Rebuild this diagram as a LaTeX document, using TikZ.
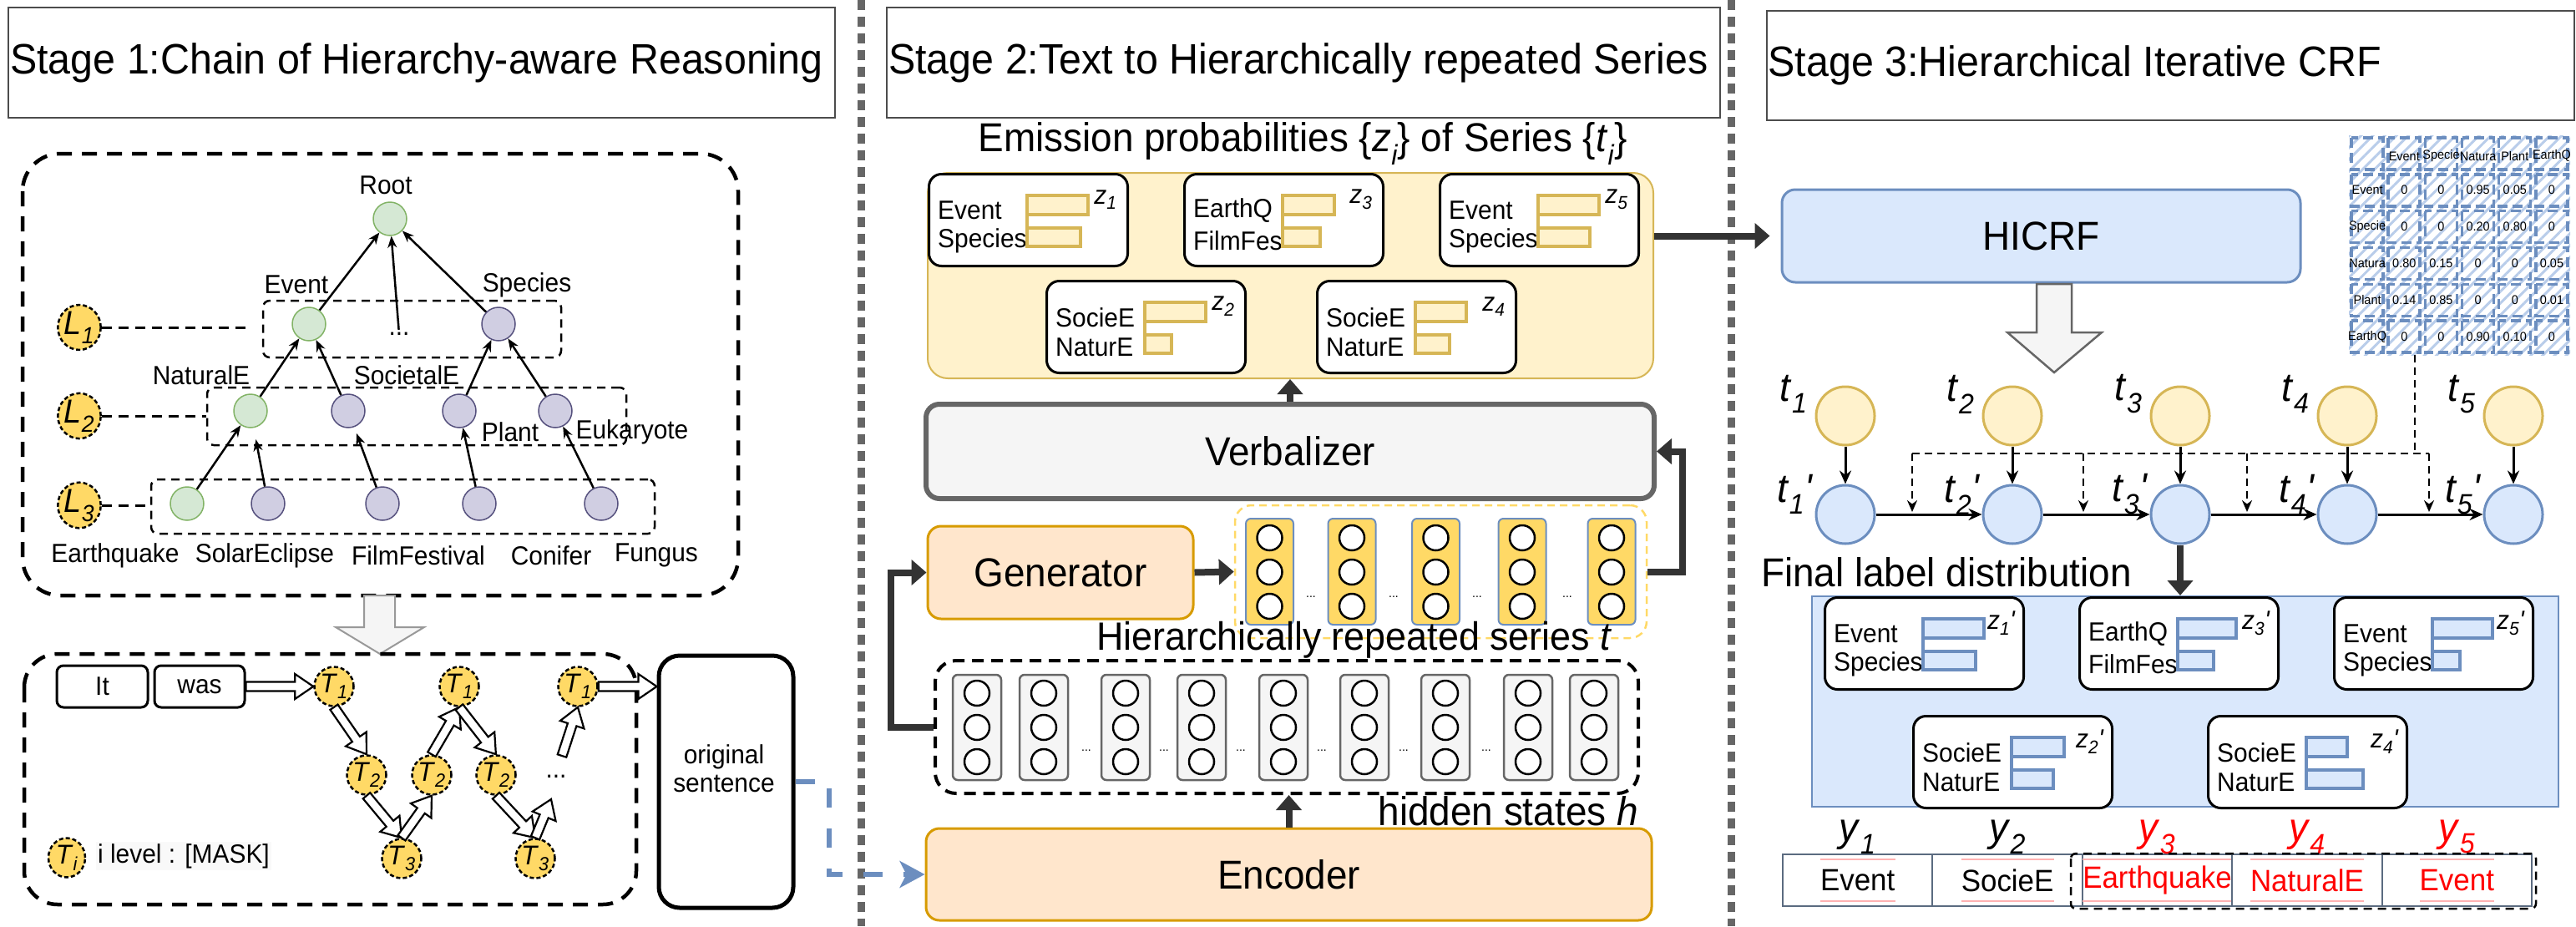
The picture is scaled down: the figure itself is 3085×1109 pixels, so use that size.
\documentclass[tikz,border=0pt]{standalone}
\usepackage{fontspec}
\setmainfont{Liberation Sans}[FakeStretch=0.95]
\usetikzlibrary{positioning,calc,arrows.meta,patterns.meta,shapes.geometric}

\definecolor{grnF}{HTML}{D5E8D4}\definecolor{grnD}{HTML}{82B366}
\definecolor{purF}{HTML}{D0CEE2}\definecolor{purD}{HTML}{56517E}
\definecolor{goldF}{HTML}{FFD966}
\definecolor{yelF}{HTML}{FFF2CC}\definecolor{yelD}{HTML}{D6B656}
\definecolor{orgF}{HTML}{FFE6CC}\definecolor{orgD}{HTML}{D79B00}
\definecolor{bluF}{HTML}{DAE8FC}\definecolor{bluD}{HTML}{6C8EBF}
\definecolor{gryF}{HTML}{F5F5F5}\definecolor{gryD}{HTML}{666666}
\definecolor{slate}{HTML}{5B6B80}

\newcommand\fsz[1]{\fontsize{\fpeval{#1*1.05}}{\fpeval{#1*1.05}}\selectfont}
\newcommand\isub[2]{\textit{#1}\textsubscript{\itshape #2}}
\newcommand\iprm{\textit{\textquotesingle}}
% hollow block arrow between two points
\newcommand\hollow[2]{%
  \draw[hol] let \p1=#1, \p2=#2, \n1={atan2(\y2-\y1,\x2-\x1)}, \n2={veclen(\x2-\x1,\y2-\y1)} in
    [shift={(\p1)}, rotate=\n1] (0,-5.5) -- (\n2-22,-5.5) -- (\n2-22,-15) -- (\n2,0)
    -- (\n2-22,15) -- (\n2-22,5.5) -- (0,5.5) -- cycle;}
% bar card: name, x, y, line 1, line 2, bar 1, bar 2, label, bar style
\newcommand\distbox[9]{%
  \node[dbox, anchor=north west] (#1) at (#2,#3) {};
  \node[dtxt, anchor=west] (#1-a) at ($(#1.north west)+(12,45)$) {#4};
  \node[dtxt, anchor=west] (#1-b) at ($(#1.north west)+(12,81)$) {#5};
  \draw[#9] ($(#1.north west)+(119,27)$) rectangle ++(#6,23);
  \draw[#9] ($(#1.north west)+(119,66)$) rectangle ++(#7,22);
  \draw[#9] ($(#1.north west)+(119,27)$) -- ++(0,61);
  \node[dtxt] (#1-z) at ($(#1.north east)+(-28,32)$) {#8};}

\begin{document}
\begin{tikzpicture}[x=1pt, y=-1pt, font=\fsz{30},
  tbox/.style={draw=black!70, line width=2pt},
  sep/.style={draw=gryD, line width=9pt, dash pattern=on 12pt off 8pt},
  gnode/.style={circle, draw=grnD, fill=grnF, line width=1.5pt, minimum size=40pt, inner sep=0pt},
  pnode/.style={circle, draw=purD, fill=purF, line width=1.5pt, minimum size=40pt, inner sep=0pt},
  lvlbox/.style={draw, line width=2.5pt, dash pattern=on 10pt off 7pt, rounded corners=8pt},
  bigbox/.style={draw, line width=4.5pt, dash pattern=on 18pt off 12pt, rounded corners=45pt},
  lnode/.style={ellipse, draw, dash pattern=on 5pt off 3pt, line width=2.5pt, fill=goldF,
    minimum width=49pt, minimum height=50pt, inner sep=0pt, font=\fsz{38}},
  Tnode/.style={ellipse, draw, dash pattern=on 5pt off 3pt, line width=2.5pt, fill=goldF,
    minimum width=44pt, minimum height=47pt, inner sep=0pt, font=\fsz{31}},
  ldash/.style={line width=3pt, dash pattern=on 12pt off 8pt},
  tarr/.style={line width=2.5pt, -{Stealth[length=14pt,width=11pt]}},
  hol/.style={draw, fill=white, line width=2.2pt, line join=miter},
  wbox/.style={draw, line width=3pt, rounded corners=8pt, inner sep=0pt},
  fatarr/.style={line width=8pt, draw=black!80, -{Triangle[length=18pt,width=30pt]}},
  bluarr/.style={draw=bluD, line width=6pt, dash pattern=on 23pt off 25pt,
    -{Stealth[length=30pt,width=32pt,inset=8pt]}},
  big/.style={font=\fsz{46}, inner sep=0pt},
  dbox/.style={draw, fill=white, line width=3pt, rounded corners=15pt,
    minimum width=238pt, minimum height=110pt, inner sep=0pt},
  dtxt/.style={font=\fsz{30}, inner sep=0pt},
  ybar/.style={draw=yelD, fill=yelF, line width=4pt},
  bbar/.style={draw=bluD, fill=bluF, line width=4pt},
  blk/.style={draw, rounded corners=16pt, minimum height=111pt, inner sep=0pt, font=\fsz{46}},
  ycol/.style={draw=bluD, fill=goldF, line width=2pt, rounded corners=6pt, minimum width=57pt, minimum height=127pt},
  hcol/.style={draw=gryD, fill=gryF, line width=2.5pt, rounded corners=6pt, minimum width=58pt, minimum height=126pt},
  cell/.style={circle, draw, fill=white, line width=2.5pt, minimum size=30pt, inner sep=0pt},
  tiny/.style={font=\fsz{14}, inner sep=0pt},
  tn/.style={circle, draw=yelD, fill=yelF, line width=3pt, minimum size=70pt},
  tp/.style={circle, draw=bluD, fill=bluF, line width=3pt, minimum size=70pt},
  carr/.style={line width=3pt, -{Stealth[length=16pt,width=14pt]}},
  dline/.style={line width=2.5pt, dash pattern=on 9pt off 6pt},
  darr/.style={dline, shorten >=3pt, -{Stealth[length=14pt,width=12pt]}},
  mcell/.style={draw=bluD, line width=3.5pt, dash pattern=on 12pt off 6pt},
  mtxt/.style={font=\fsz{14.5}, inner sep=0pt},
  ocell/.style={draw=slate, line width=2pt, minimum width=179.4pt, minimum height=62pt, inner sep=0pt},
  otxt/.style={font=\fsz{35}, inner xsep=0pt, inner ysep=0pt, minimum height=50pt},
  pk/.style={draw=red!30, line width=1.5pt}]
  \useasboundingbox (0,0) rectangle (3085,1109);

  % Stage titles
  \node[tbox, minimum width=990pt, minimum height=132pt] (ttl1) at (505,75) {};
  \node[anchor=west, inner sep=0pt, font=\fsz{48.5}] (ttl1t) at ($(ttl1.west)+(3,0)$) {Stage 1:Chain of Hierarchy-aware Reasoning};
  \node[tbox, minimum width=998pt, minimum height=132pt] (ttl2) at (1561,75) {};
  \node[anchor=west, inner sep=0pt, font=\fsz{48.5}] (ttl2t) at ($(ttl2.west)+(3,0)$) {Stage 2:Text to Hierarchically repeated Series};
  \node[tbox, minimum width=967pt, minimum height=131pt] (ttl3) at (2599,78.5) {};
  \node[anchor=west, inner sep=0pt, font=\fsz{48.5}] (ttl3t) at ($(ttl3.west)+(3,0)$) {Stage 3:Hierarchical Iterative CRF};

  % Separators
  \draw[sep] (1031,0) -- (1031,1109);
  \draw[sep] (2073,0) -- (2073,1109);

  %%%%%%%%%% Stage 1 %%%%%%%%%%
  \draw[bigbox] (27,184) rectangle (884,713);

  % Level boxes
  \node[lvlbox, minimum width=357pt, minimum height=68pt] (lv1) at (493.5,394) {};
  \node[lvlbox, minimum width=502pt, minimum height=69pt] (lv2) at (499,498.5) {};
  \node[lvlbox, minimum width=603pt, minimum height=65pt] (lv3) at (482.5,606.5) {};

  % Tree nodes
  \node[gnode] (root) at (467,262) {};
  \node[gnode] (ev) at (370,388) {};
  \node[pnode] (sp) at (597,388) {};
  \node (dots) at (478,400) {...};
  \node[gnode] (nat) at (300,492) {};
  \node[pnode] (soc) at (417,492) {};
  \node[pnode] (pla) at (550,492) {};
  \node[pnode] (euk) at (665,492) {};
  \node[gnode] (eq) at (224,603) {};
  \node[pnode] (se) at (321,603) {};
  \node[pnode] (ff) at (458,603) {};
  \node[pnode] (co) at (574,603) {};
  \node[pnode] (fu) at (720,603) {};

  % Tree labels
  \node (rootl) at (462,222) {Root};
  \node (evl) at (355,341) {Event};
  \node (spl) at (631,341) {Species};
  \node (natl) at (241,449) {NaturalE};
  \node (socl) at (487,449) {SocietalE};
  \node (plal) at (611,517) {Plant};
  \node (eukl) at (757,517) {Eukaryote};
  \node (eql) at (138,665) {Earthquake};
  \node (sel) at (317,665) {SolarEclipse};
  \node (ffl) at (501,665) {FilmFestival};
  \node (col) at (660,665) {Conifer};
  \node (ful) at (786,665) {Fungus};

  % Tree arrows
  \draw[tarr] (ev) -- (root);
  \draw[tarr] (dots) -- (root);
  \draw[tarr] (sp) -- (root);
  \draw[tarr] (nat) -- (ev);
  \draw[tarr] (soc) -- (ev);
  \draw[tarr] (pla) -- (sp);
  \draw[tarr] (euk) -- (sp);
  \draw[tarr] (eq) -- (nat);
  \draw[tarr, shorten >=14pt] (se) -- (nat);
  \draw[tarr, shorten >=8pt] (ff) -- (soc);
  \draw[tarr] (co) -- (pla);
  \draw[tarr] (fu) -- (euk);

  % Level markers
  \node[lnode] (L1) at (95,392) {\isub{L}{1}};
  \node[lnode] (L2) at (95,498) {\isub{L}{2}};
  \node[lnode] (L3) at (95,605) {\isub{L}{3}};
  \draw[ldash, shorten >=12pt] (L1) -- (L1 -| lv1.west);
  \draw[ldash] (L2) -- (L2 -| lv2.west);
  \draw[ldash] (L3) -- (L3 -| lv3.west);

  % Gray block arrow
  \draw[fill=gryF, draw=black!40, line width=2pt]
    (436,713) -- (473,713) -- (473,751) -- (508,751) -- (455,783) -- (402,751) -- (436,751) -- cycle;

  % Reasoning chain
  \draw[bigbox, rounded corners=40pt] (29,783) rectangle (762,1083);
  \node[wbox, minimum width=109pt, minimum height=50pt] (it) at (122.5,822) {It};
  \node[wbox, minimum width=108pt, minimum height=50pt] (was) at (239,822) {was};
  \node[Tnode] (T1a) at (400,822) {\isub{T}{1}};
  \node[Tnode] (T2a) at (439,928) {\isub{T}{2}};
  \node[Tnode] (T3a) at (481,1028) {\isub{T}{3}};
  \node[Tnode] (T2b) at (517,928) {\isub{T}{2}};
  \node[Tnode] (T1b) at (550,822) {\isub{T}{1}};
  \node[Tnode] (T2c) at (594,928) {\isub{T}{2}};
  \node[Tnode] (T3b) at (641,1028) {\isub{T}{3}};
  \node[Tnode] (T1c) at (692,822) {\isub{T}{1}};
  \node (dots2) at (666,930) {...};
  \coordinate (up1) at (660,957);
  \coordinate (up2) at (673,905);
  \node[wbox, line width=5pt, rounded corners=25pt, minimum width=161pt, minimum height=302pt] (orig) at (869.5,936) {};
  \node[align=center, inner sep=0pt] (origt) at (867,920) {original\\[2pt]sentence};

  \hollow{(was.east)}{(T1a.west)}
  \hollow{(T1a.south)}{(T2a.north)}
  \hollow{(T2a.south)}{(T3a.north)}
  \hollow{(T3a.north)}{(T2b.south)}
  \hollow{(T2b.north)}{(T1b.south)}
  \hollow{(T1b.south)}{(T2c.north)}
  \hollow{(T2c.south)}{(T3b.north)}
  \hollow{(T3b.north)}{(up1)}
  \hollow{(up2)}{(T1c.south)}
  \hollow{(T1c.east)}{(orig.west |- T1c.east)}

  % Legend
  \node[Tnode] (Tleg) at (80,1027) {\isub{T}{i}};
  \node[fill=gray!5, inner sep=2pt] (legt) at (220,1025) {i level : [MASK]};

  %%%%%%%%%% Stage 2 %%%%%%%%%%
  \node[big] (emit) at (1560,172) {Emission probabilities \{\isub{z}{i}\} of Series \{\isub{t}{i}\}};
  \node[draw=yelD, fill=yelF, line width=2pt, rounded corners=24pt, minimum width=869pt, minimum height=246pt] (ebg) at (1545.5,330) {};
  \distbox{z1}{1111}{207}{Event}{Species}{73}{64}{\isub{z}{1}}{ybar}
  \distbox{z3}{1417}{207}{EarthQ}{FilmFes}{62}{45}{\isub{z}{3}}{ybar}
  \distbox{z5}{1723}{207}{Event}{Species}{73}{62}{\isub{z}{5}}{ybar}
  \distbox{z2}{1252}{335}{SocieE}{NaturE}{73}{32}{\isub{z}{2}}{ybar}
  \distbox{z4}{1576}{335}{SocieE}{NaturE}{61}{41}{\isub{z}{4}}{ybar}

  \node[blk, fill=gryF, draw=gryD, line width=6pt, minimum width=872pt, minimum height=113pt] (vbz) at (1545,540.5) {Verbalizer};
  \node[blk, fill=orgF, draw=orgD, line width=3pt, minimum width=318pt] (gen) at (1270,685.5) {Generator};
  \node[blk, fill=orgF, draw=orgD, line width=3pt, minimum width=869pt, minimum height=110pt] (enc) at (1543.5,1047) {Encoder};

  % Hierarchically repeated series
  \node[draw=goldF, line width=2.5pt, dash pattern=on 9pt off 6pt, rounded corners=20pt,
    minimum width=493pt, minimum height=159pt] (ser) at (1725.5,684.5) {};
  \foreach \cx [count=\i] in {1520.5,1619,1719.5,1823,1930} {
    \node[ycol] (tc\i) at (\cx,684.5) {};
    \foreach \cy [count=\k] in {644,685,726}
      \node[cell] (tc\i-\k) at (\cx,\cy) {};
  }
  \foreach \dx [count=\i] in {1570,1669,1769,1877}
    \node[tiny] (sd\i) at (\dx,715) {...};
  \node[big, font=\fsz{45}] (serl) at (1622,766) {Hierarchically repeated series \textit{t}};

  % Hidden states
  \node[draw, line width=4pt, dash pattern=on 14pt off 9pt, rounded corners=25pt,
    minimum width=842pt, minimum height=159pt] (hid) at (1541,870.5) {};
  \foreach \cx [count=\i] in {1170,1250,1348,1439,1537,1634,1731,1830,1909} {
    \node[hcol] (hc\i) at (\cx,871) {};
    \foreach \cy [count=\k] in {830,871,912}
      \node[cell] (hc\i-\k) at (\cx,\cy) {};
  }
  \foreach \dx [count=\i] in {1301,1394,1486,1583,1681,1780}
    \node[tiny] (hd\i) at (\dx,899) {...};
  \node[big, anchor=east] (hidl) at (1962,971) {hidden states \textit{h}};

  % Stage 2 flow
  \draw[fatarr] (enc.north) -- (enc.north |- hid.south);
  \draw[fatarr] (hid.west) -- ++(-51,0) |- (gen.west);
  \draw[fatarr] (gen.east) -- (ser.west);
  \draw[fatarr] (ser.east) -- ++(42,0) |- (vbz.east);
  \draw[fatarr] (vbz.north) -- (vbz.north |- ebg.south);
  \draw[bluarr] (orig.east) -- ++(40,0) |- (enc.west);

  %%%%%%%%%% Stage 3 %%%%%%%%%%
  \node[blk, fill=bluF, draw=bluD, line width=3pt, minimum width=621pt] (hicrf) at (2444.5,282.5) {HICRF};
  \draw[fatarr, shorten >=13pt] (hicrf.west -| ebg.east) -- (hicrf.west);
  \draw[fill=gryF, draw=gryD, line width=2.5pt]
    (2439,340) -- (2481,340) -- (2481,398) -- (2517,398) -- (2460,446) -- (2404,398) -- (2439,398) -- cycle;

  % Transition matrix
  \def\mx{2813}
  \def\my{162}
  \def\cw{44.17}
  \def\ch{43.83}
  \fill[pattern={Lines[angle=45,distance=10pt,line width=3pt]}, pattern color=bluF!70!bluD] (\mx,\my) rectangle ++(265,263);
  \foreach \i in {0,...,5}
    \foreach \j in {0,...,5}
      \draw[mcell] ({\mx+\i*\cw+3},{\my+\j*\ch+3}) rectangle ++(38,38);
  \foreach \h [count=\i] in {Event,Specie,Natura,Plant,EarthQ}
    \node[mtxt] (mh\i) at ({\mx+(\i+0.5)*\cw},{\my+0.5*\ch+3}) {\h};
  \foreach \rl/\va/\vb/\vc/\vd/\ve [count=\r] in {Event/0/0/0.95/0.05/0, Specie/0/0/0.20/0.80/0,
      Natura/0.80/0.15/0/0/0.05, Plant/0.14/0.85/0/0/0.01, EarthQ/0/0/0.90/0.10/0} {
    \node[mtxt] (mr\r) at ({\mx+0.5*\cw},{\my+(\r+0.5)*\ch}) {\rl};
    \foreach \v [count=\k] in {\va,\vb,\vc,\vd,\ve}
      \node[mtxt] (m\r-\k) at ({\mx+(\k+0.5)*\cw},{\my+(\r+0.5)*\ch}) {\v};
  }
  \coordinate (mtx) at (2892,425);

  % Chain of series nodes
  \foreach \x [count=\i] in {2210,2410,2611,2811,3010} {
    \node[tn] (tn\i) at (\x,498) {};
    \node[tp] (tp\i) at (\x,616) {};
    \draw[carr] (tn\i) -- (tp\i);
    \node[big] (tl\i) at (\x-62,472) {\isub{t}{\i}};
  }
  \foreach \i/\j in {1/2,2/3,3/4,4/5}
    \draw[carr] (tp\i) -- (tp\j);
  \foreach \x [count=\i] in {2210,2410,2611,2811,3010}
    \node[big] (tpl\i) at (\x-60,592) {\isub{t}{\i}\iprm};

  % Transition feed
  \coordinate (dk1) at (2290,543);
  \coordinate (dk2) at (2495,543);
  \coordinate (dk3) at (2691,543);
  \coordinate (dk4) at (2909,543);
  \draw[dline] (dk1) -- (dk4);
  \draw[dline] (mtx) -- (mtx |- dk4);
  \foreach \k in {1,...,4}
    \draw[darr] (dk\k) -- (dk\k |- tp1);

  % Final label distribution
  \node[big] (fin) at (2331,685) {Final label distribution};
  \node[draw=bluD, fill=bluF, line width=2pt, minimum width=894pt, minimum height=252pt] (fbg) at (2617,840) {};
  \draw[fatarr] (tp3.south) -- (tp3.south |- fbg.north);
  \distbox{f1}{2184}{714}{Event}{Species}{73}{63}{\isub{z}{1}\iprm}{bbar}
  \distbox{f3}{2489}{714}{EarthQ}{FilmFes}{70}{43}{\isub{z}{3}\iprm}{bbar}
  \distbox{f5}{2794}{714}{Event}{Species}{72}{33}{\isub{z}{5}\iprm}{bbar}
  \distbox{f2}{2290}{856}{SocieE}{NaturE}{63}{50}{\isub{z}{2}\iprm}{bbar}
  \distbox{f4}{2643}{856}{SocieE}{NaturE}{49}{68}{\isub{z}{4}\iprm}{bbar}

  % Output labels
  \foreach \lab/\col [count=\i] in {Event/black, SocieE/black, Earthquake/red, NaturalE/red, Event/red} {
    \node[ocell] (oc\i) at ({2135+(\i-0.5)*179.4},1054) {};
    \node[otxt, text=\col] (ot\i) at (oc\i) {\lab};
    \draw[pk] (ot\i.north west) -- (ot\i.north east);
    \draw[pk] (ot\i.south west) -- (ot\i.south east);
    \node[big, text=\col] (yl\i) at ({2135+(\i-0.5)*179.4},1002) {\isub{y}{\i}};
  }
  \draw[lvlbox, rounded corners=6pt] (2480,1022) rectangle (3037,1088);
\end{tikzpicture}
\end{document}
